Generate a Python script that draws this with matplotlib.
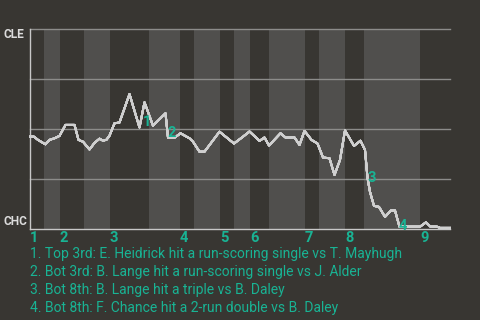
import matplotlib
matplotlib.use("Agg")
import matplotlib.pyplot as plt
from matplotlib.patches import Rectangle

# win probability chart, CLE at top, CHC at bottom

# play number (game progress) and CLE win probability (%)
play = [0, 0.8, 1.6, 2.4, 3.1, 3.9, 4.9, 5.9, 7.1, 8.9, 9.7, 10.6, 11.9, 12.9,
        13.9, 14.6, 15.3, 15.9, 16.9, 17.9, 19.9, 21.9, 22.9, 24.6, 27.1, 27.6,
        28.9, 30.1, 31.9, 32.6, 33.9, 34.9, 37.9, 40.8, 42.6, 43.9, 45.9, 46.9,
        47.8, 50.1, 51.1, 52.9, 53.9, 54.9, 56.3, 57.5, 58.6, 59.9, 60.9, 62.0,
        63.0, 64.8, 66.1, 67.0, 67.5, 68.0, 68.8, 69.8, 71.0, 72.2, 73.0, 73.9,
        78.0, 79.2, 80.1, 81.4, 82.0, 84.0]
cle_win = [45.9, 45.9, 44.3, 43.1, 42.1, 44.3, 45.1, 46.3, 51.8, 51.8, 44.3,
           43.4, 39.5, 42.8, 44.9, 43.9, 44.4, 46.4, 52.6, 53.0, 67.2, 50.5,
           63.1, 51.4, 57.6, 45.4, 45.4, 47.6, 45.1, 43.4, 38.4, 38.4, 48.4,
           42.5, 45.9, 48.5, 43.8, 45.5, 41.5, 47.6, 45.5, 45.5, 41.8, 48.8,
           44.3, 42.5, 35.5, 35.1, 26.8, 34.3, 49.0, 41.3, 43.9, 39.3, 25.3,
           18.3, 11.3, 10.8, 5.8, 9.0, 9.0, 0.9, 0.9, 3.1, 0.9, 0.9, 0.3, 0.3]

# half inning edges (top half, bottom half)
inning_start = [0, 6, 16, 30, 38, 44, 55, 63, 78]
bottom_start = [2.8, 10.8, 23.8, 32.8, 40.8, 47.8, 57.8, 66.8, None]
game_end = 84
inning_labels = ["1", "2", "3", "4", "5", "6", "7", "8", "9"]

# key plays
event_x = [23.5, 28.4, 68.3, 74.6]
event_y = [53.4, 47.8, 25.3, 1.3]
event_labels = ["1", "2", "3", "4"]
event_text = [
    "1. Top 3rd: E. Heidrick hit a run-scoring single vs T. Mayhugh",
    "2. Bot 3rd: B. Lange hit a run-scoring single vs J. Alder",
    "3. Bot 8th: B. Lange hit a triple vs B. Daley",
    "4. Bot 8th: F. Chance hit a 2-run double vs B. Daley",
]

bg = "#383632"
band = "#504f4d"
teal = "#19b394"
grid = "#8c8c8a"

plt.rcParams['font.family'] = ['Roboto', 'DejaVu Sans']

fig = plt.figure(figsize=(4.8, 3.2), dpi=100, facecolor=bg)
ax = fig.add_axes([30 / 480, (320 - 228.5) / 320, 420 / 480, 200 / 320])
ax.set_facecolor(bg)
ax.set_xlim(0, game_end)
ax.set_ylim(0, 100)

# bottom halves get the lighter band
ends = inning_start[1:] + [game_end]
for b, e in zip(bottom_start, ends):
    if b is not None:
        ax.axvspan(b, e, color=band, lw=0, zorder=0)

for g in [25, 50, 75, 100]:
    ax.axhline(g, color=grid, lw=1, zorder=1, clip_on=False)

for s in ["top", "right"]:
    ax.spines[s].set_visible(False)
for s in ["left", "bottom"]:
    ax.spines[s].set_color("#c8c8c8")
    ax.spines[s].set_linewidth(1)
ax.set_xticks([])
ax.set_yticks([])

# white line, grey where CLE is batting
ax.plot(play, cle_win, color="white", lw=1.4, zorder=3, clip_on=False)
for s, b in zip(inning_start, bottom_start):
    e = b if b is not None else game_end
    clip = Rectangle((s, -5), e - s, 110, transform=ax.transData)
    ln, = ax.plot(play, cle_win, color="#cfcfcf", lw=1.4, zorder=4, clip_on=False)
    ln.set_clip_path(clip)

for x, y, t in zip(event_x, event_y, event_labels):
    ax.text(x, y, t, color=teal, fontsize=10.5, fontweight="bold",
            ha="center", va="center", zorder=5)

# inning numbers under the plot
for x, t in zip(inning_start, inning_labels):
    ax.annotate(t, xy=(x, 0), xycoords="data", xytext=(0, -7),
                textcoords="offset points", color=teal, fontsize=10.5,
                fontweight="bold", ha="left", va="center")

# team names on the left
fig.text(3 / 480, 1 - 35 / 320, "CLE", color="#dcdcdc", fontsize=8.6,
         fontweight="bold", ha="left", va="center")
fig.text(3 / 480, 1 - 221.7 / 320, "CHC", color="#dcdcdc", fontsize=8.6,
         fontweight="bold", ha="left", va="center")

for i, t in enumerate(event_text):
    fig.text(30 / 480, 1 - (254.3 + i * 17.8) / 320, t, color=teal,
             fontsize=10, ha="left", va="center")

fig.savefig("out.png", dpi=100, facecolor=bg)
